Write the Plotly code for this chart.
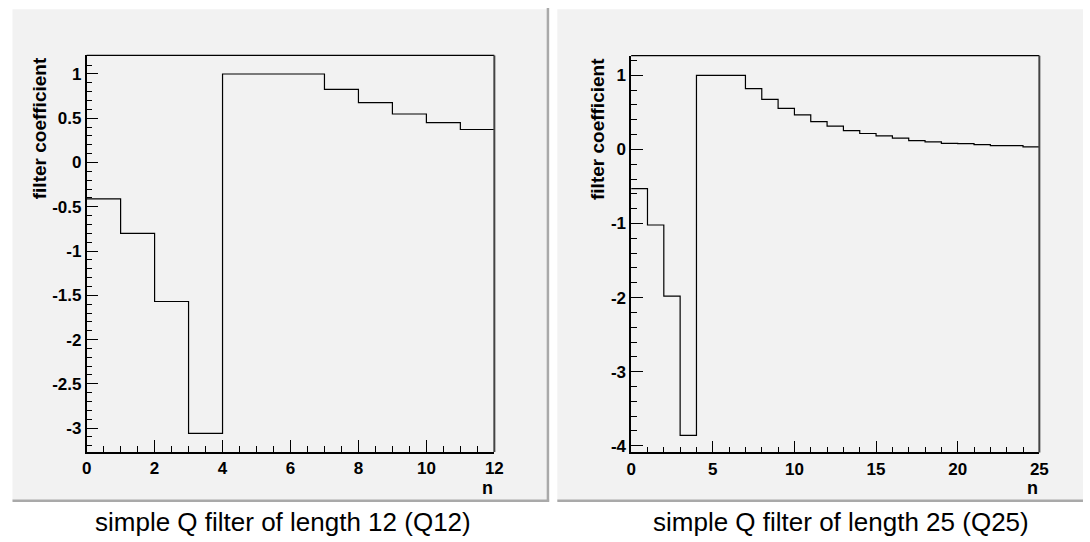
import plotly.graph_objects as go

# ---- data ----
Q12_VALUES = [-0.41, -0.80, -1.57, -3.06, 1.0, 1.0, 1.0, 0.825, 0.677, 0.548, 0.451, 0.373]
Q25_VALUES = [-0.53, -1.02, -1.98, -3.86, 1.0, 1.0, 1.0, 0.82, 0.675, 0.555, 0.465,
              0.375, 0.315, 0.255, 0.215, 0.183, 0.153, 0.12, 0.103, 0.082, 0.078,
              0.066, 0.052, 0.05, 0.034]

Q12_YTICKS = [-3, -2.5, -2, -1.5, -1, -0.5, 0, 0.5, 1]
Q12_YLABELS = ['-3', '-2.5', '-2', '-1.5', '-1', '-0.5', '0', '0.5', '1']
Q12_XTICKS = [0, 2, 4, 6, 8, 10, 12]
Q25_YTICKS = [-4, -3, -2, -1, 0, 1]
Q25_YLABELS = ['-4', '-3', '-2', '-1', '0', '1']
Q25_XTICKS = [0, 5, 10, 15, 20, 25]
CAPTIONS = ['simple Q filter of length 12 (Q12)', 'simple Q filter of length 25 (Q25)']
Y_TITLE = 'filter coefficient'
X_TITLE = 'n'

W, H = 1090, 542
def px(x):
    return x / W
def py(y):
    return 1 - y / H

GREY = '#f2f2f2'
SHADOW = '#a9a9a9'
FONT = 'Liberation Sans, Arial, sans-serif'
tickfont = dict(family=FONT, size=17, color='black', weight='bold')

def step_xy(vals):
    xs = list(range(len(vals) + 1))
    ys = list(vals) + [vals[-1]]
    return xs, ys

fig = go.Figure()
x1, y1 = step_xy(Q12_VALUES)
fig.add_trace(go.Scatter(x=x1, y=y1, mode='lines', line=dict(shape='hv', color='black', width=1.2),
                         xaxis='x', yaxis='y', showlegend=False, hoverinfo='skip'))
x2, y2 = step_xy(Q25_VALUES)
fig.add_trace(go.Scatter(x=x2, y=y2, mode='lines', line=dict(shape='hv', color='black', width=1.2),
                         xaxis='x2', yaxis='y2', showlegend=False, hoverinfo='skip'))

def xaxis_cfg(domain, rng, tickvals, minor_dtick, anchor):
    return dict(domain=domain, range=rng, anchor=anchor, showline=True, linecolor='black',
                linewidth=1.5, ticks='inside', ticklen=12, tickwidth=1, tickcolor='black',
                tickmode='array', tickvals=tickvals, ticktext=[str(v) for v in tickvals],
                tickfont=tickfont, showgrid=False, zeroline=False, fixedrange=True,
                minor=dict(ticks='inside', ticklen=6, tickwidth=1, tickcolor='black',
                           tick0=0, dtick=minor_dtick, showgrid=False))

def yaxis_cfg(domain, rng, tickvals, ticktext, minor_dtick, anchor):
    return dict(domain=domain, range=rng, anchor=anchor, showline=True, linecolor='black',
                linewidth=1.5, ticks='inside', ticklen=12, tickwidth=1, tickcolor='black',
                tickmode='array', tickvals=tickvals, ticktext=ticktext,
                tickfont=tickfont, showgrid=False, zeroline=False, fixedrange=True,
                minor=dict(ticks='inside', ticklen=6, tickwidth=1, tickcolor='black',
                           tick0=0, dtick=minor_dtick, showgrid=False))

LF = (82.7, 495.7, 55.7, 454.5)   # left frame px: x0, x1, ytop, ybottom
RF = (634.3, 1047.8, 56.0, 455.0)

fig.update_layout(
    width=W, height=H, margin=dict(l=0, r=0, t=0, b=0),
    paper_bgcolor='white', plot_bgcolor=GREY,
    xaxis=xaxis_cfg([px(LF[0]), px(LF[1])], [0, 12], Q12_XTICKS, 0.5, 'y'),
    yaxis=yaxis_cfg([py(LF[3]), py(LF[2])], [-3.27, 1.21], Q12_YTICKS, Q12_YLABELS, 0.1, 'x'),
    xaxis2=xaxis_cfg([px(RF[0]), px(RF[1])], [0, 25], Q25_XTICKS, 1, 'y2'),
    yaxis2=yaxis_cfg([py(RF[3]), py(RF[2])], [-4.09, 1.265], Q25_YTICKS, Q25_YLABELS, 0.2, 'x2'),
)

shapes = []
# panel backgrounds
for (a, b) in [(7.6, 551.0), (559.5, 1092.0)]:
    shapes.append(dict(type='rect', xref='paper', yref='paper', x0=px(a), x1=px(b),
                       y0=py(504), y1=py(9.4), fillcolor=GREY, line=dict(width=0), layer='below'))
# shadows
shapes.append(dict(type='line', xref='paper', yref='paper', x0=px(550), x1=px(550),
                   y0=py(504.5), y1=py(8), line=dict(color=SHADOW, width=2.5)))
shapes.append(dict(type='line', xref='paper', yref='paper', x0=px(7.6), x1=px(551.2),
                   y0=py(503.5), y1=py(503.5), line=dict(color=SHADOW, width=2.5)))
shapes.append(dict(type='line', xref='paper', yref='paper', x0=px(559.5), x1=px(1092),
                   y0=py(503.5), y1=py(503.5), line=dict(color=SHADOW, width=2.5)))
# frame top / right
for xr, yr in [('x domain', 'y domain'), ('x2 domain', 'y2 domain')]:
    shapes.append(dict(type='line', xref=xr, yref=yr, x0=0, x1=1, y0=1, y1=1,
                       line=dict(color='black', width=1.2)))
    shapes.append(dict(type='line', xref=xr, yref=yr, x0=1, x1=1, y0=0, y1=1,
                       line=dict(color='#444444', width=2)))
fig.update_layout(shapes=shapes)

titlefont = dict(family=FONT, size=19, color='black', weight='bold')
ann = []
for xc in (35, 600):
    ann.append(dict(text=Y_TITLE, xref='paper', yref='paper', x=px(xc), y=py(56),
                    xanchor='center', yanchor='top', textangle=-90, showarrow=False,
                    font=titlefont))
for xr in (496, 1048):
    ann.append(dict(text=X_TITLE, xref='paper', yref='paper', x=px(xr), y=py(491),
                    xanchor='right', yanchor='middle', showarrow=False,
                    font=dict(family=FONT, size=18, color='black', weight='bold')))
for cap, xc in zip(CAPTIONS, (282, 847)):
    ann.append(dict(text=cap, xref='paper', yref='paper', x=px(xc), y=py(525),
                    xanchor='center', yanchor='middle', showarrow=False,
                    font=dict(family=FONT, size=26, color='black')))
fig.update_layout(annotations=ann)

fig.write_html('out.html')
